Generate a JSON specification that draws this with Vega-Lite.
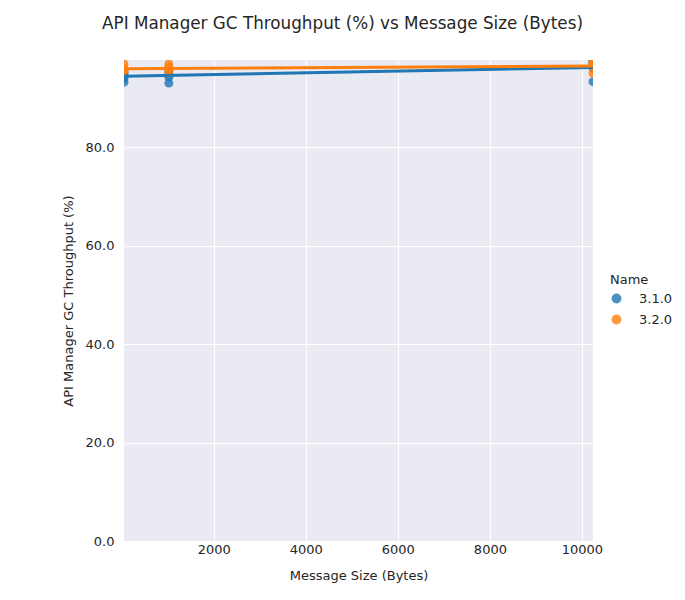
{
  "$schema": "https://vega.github.io/schema/vega-lite/v6.json",
  "width": 469,
  "height": 481,
  "autosize": {"type": "none"},
  "padding": {"left": 124, "top": 60, "right": 92, "bottom": 59},
  "background": "white",
  "title": {"text": "API Manager GC Throughput (%) vs Message Size (Bytes)", "fontSize": 16.8, "font": "DejaVu Sans", "fontWeight": "normal", "color": "#262626", "anchor": "middle", "frame": "group", "dx": -16, "offset": 27},
  "config": {
    "font": "DejaVu Sans",
    "view": {"fill": "#EAEAF2", "stroke": null},
    "axis": {"domain": false, "ticks": false, "gridColor": "white", "gridWidth": 1, "labelFont": "DejaVu Sans", "labelFontSize": 13, "labelColor": "#262626", "titleFont": "DejaVu Sans", "titleFontSize": 13, "titleFontWeight": "normal", "titleColor": "#262626"},
    "legend": {"labelFont": "DejaVu Sans", "titleFont": "DejaVu Sans", "labelFontSize": 13, "titleFontSize": 13, "titleFontWeight": "normal", "labelColor": "#262626", "titleColor": "#262626"}
  },
  "data": {"values": [
    {"Name": "3.1.0", "size": 50, "throughput": 93.2},
    {"Name": "3.1.0", "size": 50, "throughput": 94.0},
    {"Name": "3.1.0", "size": 50, "throughput": 94.5},
    {"Name": "3.1.0", "size": 50, "throughput": 95.0},
    {"Name": "3.1.0", "size": 50, "throughput": 95.3},
    {"Name": "3.1.0", "size": 1024, "throughput": 93.0},
    {"Name": "3.1.0", "size": 1024, "throughput": 94.2},
    {"Name": "3.1.0", "size": 1024, "throughput": 94.8},
    {"Name": "3.1.0", "size": 1024, "throughput": 95.3},
    {"Name": "3.1.0", "size": 1024, "throughput": 95.7},
    {"Name": "3.1.0", "size": 10240, "throughput": 93.3},
    {"Name": "3.1.0", "size": 10240, "throughput": 96.0},
    {"Name": "3.1.0", "size": 10240, "throughput": 97.0},
    {"Name": "3.1.0", "size": 10240, "throughput": 97.2},
    {"Name": "3.1.0", "size": 10240, "throughput": 97.5},
    {"Name": "3.2.0", "size": 50, "throughput": 95.5},
    {"Name": "3.2.0", "size": 50, "throughput": 95.6},
    {"Name": "3.2.0", "size": 50, "throughput": 95.8},
    {"Name": "3.2.0", "size": 50, "throughput": 96.0},
    {"Name": "3.2.0", "size": 50, "throughput": 96.9},
    {"Name": "3.2.0", "size": 1024, "throughput": 95.0},
    {"Name": "3.2.0", "size": 1024, "throughput": 95.7},
    {"Name": "3.2.0", "size": 1024, "throughput": 96.0},
    {"Name": "3.2.0", "size": 1024, "throughput": 96.3},
    {"Name": "3.2.0", "size": 1024, "throughput": 96.9},
    {"Name": "3.2.0", "size": 10240, "throughput": 95.0},
    {"Name": "3.2.0", "size": 10240, "throughput": 96.3},
    {"Name": "3.2.0", "size": 10240, "throughput": 96.8},
    {"Name": "3.2.0", "size": 10240, "throughput": 97.0},
    {"Name": "3.2.0", "size": 10240, "throughput": 97.4}
  ]},
  "layer": [
    {
      "mark": {"type": "point", "filled": true, "opacity": 0.8, "size": 80, "clip": true},
      "encoding": {
        "x": {"field": "size", "type": "quantitative", "scale": {"domain": [50, 10240], "nice": false, "zero": false}, "axis": {"values": [2000, 4000, 6000, 8000, 10000], "format": "d", "title": "Message Size (Bytes)", "labelPadding": 2, "titlePadding": 13}},
        "y": {"field": "throughput", "type": "quantitative", "scale": {"domain": [0, 97.7], "nice": false}, "axis": {"values": [0, 20, 40, 60, 80], "format": ".1f", "title": "API Manager GC Throughput (%)", "labelPadding": 10, "titlePadding": 10}},
        "color": {"field": "Name", "type": "nominal", "scale": {"domain": ["3.1.0", "3.2.0"], "range": ["#1f77b4", "#ff7f0e"]}, "legend": {"title": "Name", "orient": "none", "legendX": 486, "legendY": 214, "symbolType": "circle", "symbolSize": 70, "symbolOpacity": 0.8, "labelOffset": 16, "rowPadding": 6}}
      }
    },
    {
      "transform": [{"regression": "throughput", "on": "size", "groupby": ["Name"], "extent": [50, 10240]}],
      "mark": {"type": "line", "strokeWidth": 3, "clip": true},
      "encoding": {
        "x": {"field": "size", "type": "quantitative"},
        "y": {"field": "throughput", "type": "quantitative"},
        "color": {"field": "Name", "type": "nominal"}
      }
    }
  ]
}
